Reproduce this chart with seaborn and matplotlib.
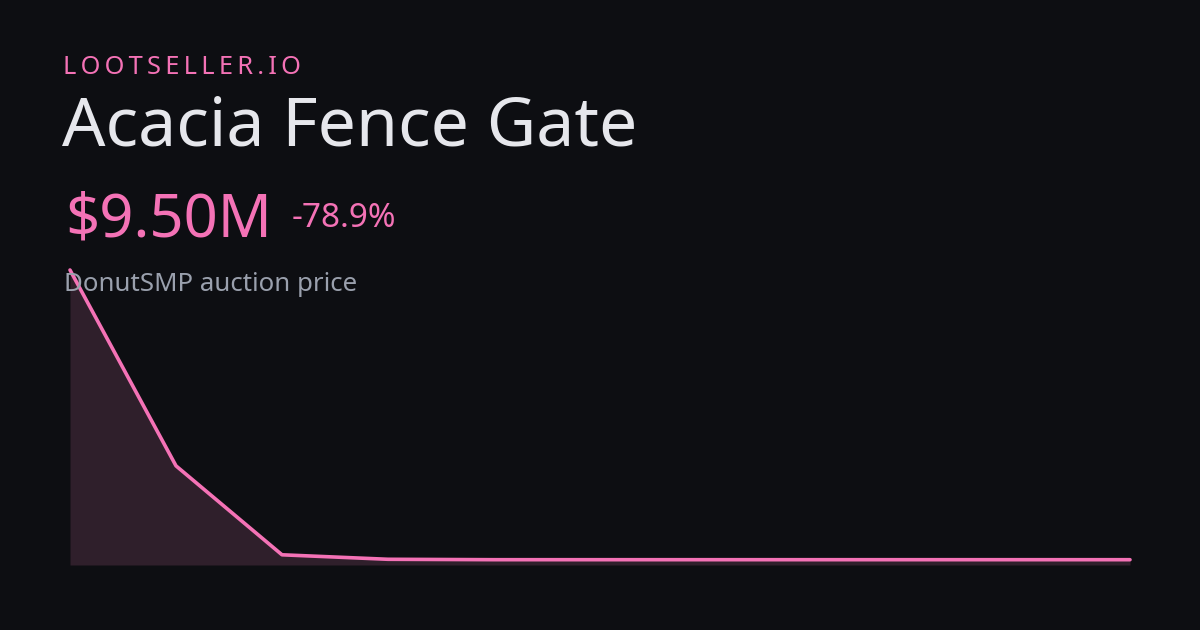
import matplotlib
matplotlib.use("Agg")
import matplotlib.pyplot as plt
import seaborn as sns
import pandas as pd

# price history (millions), one point per step
steps = [0, 1, 2, 3, 4, 5, 6, 7, 8, 9, 10]
prices = [45.0, 21.0, 10.1, 9.55, 9.5, 9.5, 9.5, 9.5, 9.5, 9.5, 9.5]

brand = "LOOTSELLER.IO"
item_name = "Acacia Fence Gate"
price_label = "$9.50M"
change_label = "-78.9%"
subtitle = "DonutSMP auction price"

BG = "#0d0e12"
PINK = "#f472b6"
FILL = "#2f1f2b"
TITLE = "#e6e7ec"
MUTED = "#9aa0ad"

sns.set_theme(style="white")
plt.rcParams['font.family'] = ['Noto Sans', 'DejaVu Sans']

df = pd.DataFrame({"step": steps, "price": prices})

fig = plt.figure(figsize=(12, 6.3), dpi=100, facecolor=BG)
ax = fig.add_axes([70 / 1200, 1 - 565 / 630, 1060 / 1200, 295 / 630])
ax.set_facecolor(BG)

ax.fill_between(df["step"], df["price"], 8.85, color=FILL, linewidth=0, zorder=1)
sns.lineplot(data=df, x="step", y="price", ax=ax, color=PINK, linewidth=2.6,
             zorder=3, clip_on=False, solid_capstyle="round", solid_joinstyle="round")

ax.set_xlim(0, 10)
ax.set_ylim(8.85, 45.0)
ax.axis("off")

# header texts
fig.text(63 / 1200, 1 - 74.5 / 630, "\u2009".join(brand), color=PINK, fontsize=18.3,
         va="baseline", ha="left")
fig.text(62 / 1200, 1 - 145.5 / 630, item_name, color=TITLE, fontsize=49,
         va="baseline", ha="left")
fig.text(65 / 1200, 1 - 236.5 / 630, price_label, color=PINK, fontsize=43,
         va="baseline", ha="left")
fig.text(292 / 1200, 1 - 227 / 630, change_label, color=PINK, fontsize=24,
         va="baseline", ha="left")
fig.text(64 / 1200, 1 - 290.7 / 630, subtitle, color=MUTED, fontsize=18.6,
         va="baseline", ha="left", zorder=5)

fig.savefig("out.png", dpi=100, facecolor=BG)
